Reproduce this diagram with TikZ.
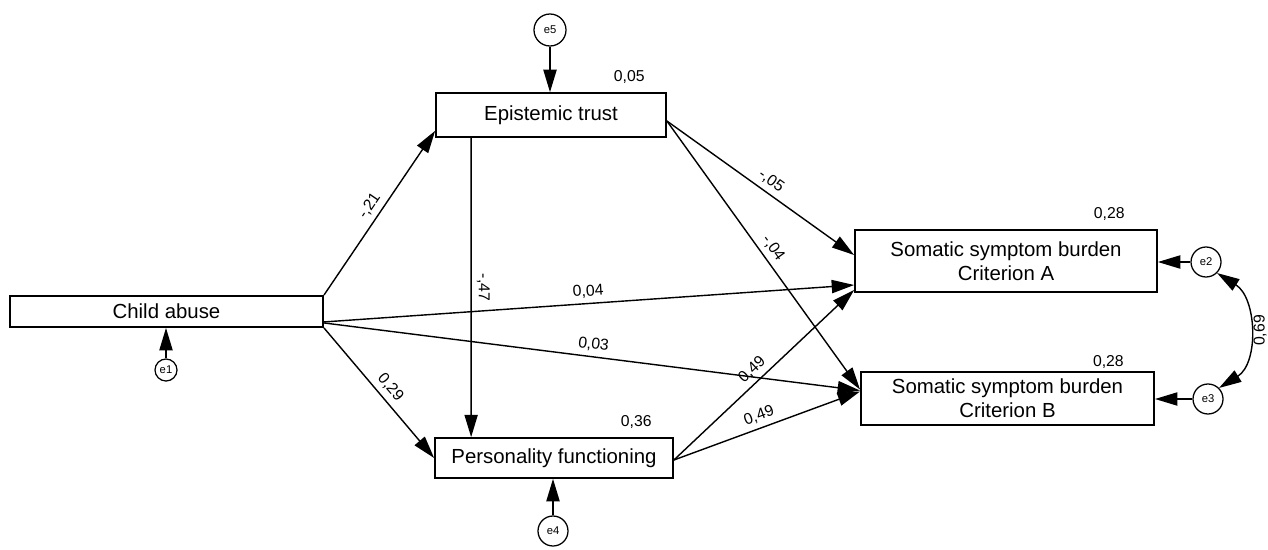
\documentclass[tikz,border=0pt]{standalone}
\usepackage{fontspec}
\setmainfont{Liberation Sans}
\usetikzlibrary{arrows.meta, calc}

\begin{document}
\begin{tikzpicture}[x=0.025cm, y=0.025cm, >={Triangle[length=5.6mm, width=3.3mm]},
    box/.style={draw, line width=1.2pt, inner sep=0pt, align=center, font=\fontsize{14.5}{17}\selectfont},
    err/.style={draw, circle, fill=white, line width=0.9pt, inner sep=0pt, minimum size=#1, font=\fontsize{8}{9}\selectfont},
    link/.style={->, line width=1pt},
    coef/.style={font=\fontsize{11.2}{13}\selectfont, inner sep=3.5pt},
    rsq/.style={font=\fontsize{11.2}{13}\selectfont, inner sep=0pt, anchor=south east}]
    \useasboundingbox (0,0) rectangle (1268,549);

    \node[box, minimum width=7.83cm, minimum height=0.78cm] (ca) at (166.5,237.5) {Child abuse};
    \node[box, minimum width=5.75cm, minimum height=1.1cm] (et) at (551,434) {Epistemic trust};
    \node[box, minimum width=5.95cm, minimum height=1.0cm] (pf) at (554,91) {Personality functioning};
    \node[box, minimum width=7.55cm, minimum height=1.55cm] (sa) at (1006,288) {Somatic symptom burden\\Criterion A};
    \node[box, minimum width=7.33cm, minimum height=1.33cm] (sb) at (1007.5,150.5) {Somatic symptom burden\\Criterion B};

    \node[err=0.8cm] (e5) at (550,519) {e5};
    \node[err=0.55cm] (e1) at (166,179) {e1};
    \node[err=0.75cm] (e4) at (553,18) {e4};
    \node[err=0.75cm] (e2) at (1206,287) {e2};
    \node[err=0.75cm] (e3) at (1208,150) {e3};

    \node[rsq] at ($(et.north east)+(-22,8)$) {0,05};
    \node[rsq] at ($(pf.north east)+(-22,8)$) {0,36};
    \node[rsq] at ($(sa.north east)+(-33,8)$) {0,28};
    \node[rsq] at ($(sb.north east)+(-31,2)$) {0,28};

    \draw[link] (e5) -- (e5 |- et.north);
    \draw[link] (e1) -- (e1 |- ca.south);
    \draw[link] (e4) -- (e4 |- pf.south);
    \draw[link] (e2) -- (e2 -| sa.east);
    \draw[link] (e3) -- (e3 -| sb.east);
    \draw[<->, line width=1pt] (e2.-45) .. controls +(40,-25) and +(40,25) .. (e3.45)
        node[coef, pos=0.5, anchor=north, rotate=90] {0,69};

    \draw[link] (ca.north east) -- node[coef, sloped, above, pos=.5] {-,21} ($(et.south west)+(0,7)$);
    \draw[link] (ca.south east) -- node[coef, sloped, above, pos=.52] {0,29} (pf.west);
    \draw[link] ($(ca.south east)+(0,6)$) -- node[coef, sloped, above, pos=.5] {0,04} ($(sa.west)+(0,-24)$);
    \draw[link] ($(ca.south east)+(0,5)$) -- node[coef, sloped, above, pos=.5] {0,03} ($(sb.west)+(0,8)$);
    \draw[link] ($(et.south west)+(36,0)$) -- node[coef, rotate=-90, anchor=south, pos=.5] {-,47} ($(pf.north west)+(37,0)$);
    \draw[link] ($(et.east)+(0,-6)$) -- node[coef, sloped, above, pos=.52] {-,05} ($(sa.west)+(0,6)$);
    \draw[link] ($(et.east)+(0,-6)$) -- node[coef, sloped, above, pos=.5] {-,04} ($(sb.west)+(0,9)$);
    \draw[link] ($(pf.east)+(0,-2)$) -- node[coef, sloped, above, pos=.48] {0,49} ($(sa.west)+(0,-29)$);
    \draw[link] ($(pf.east)+(0,-2)$) -- node[coef, sloped, above, pos=.48] {0,49} ($(sb.west)+(0,7)$);
\end{tikzpicture}
\end{document}
